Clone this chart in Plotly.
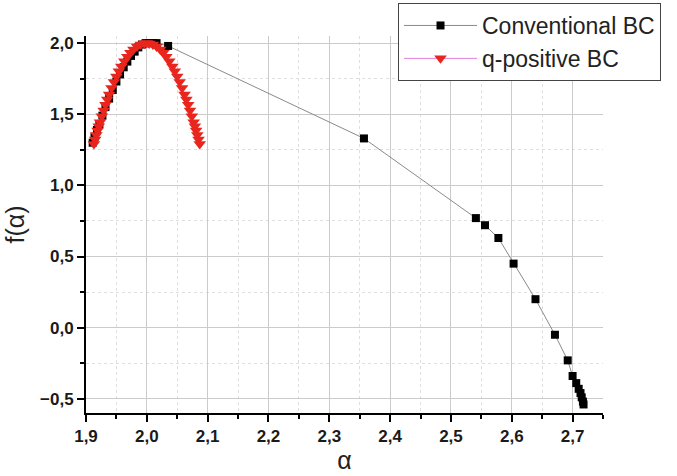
import plotly.graph_objects as go

# Conventional BC (black squares)
conv_alpha = [1.911, 1.914, 1.918, 1.922, 1.927, 1.932, 1.938, 1.944, 1.950, 1.956,
              1.962, 1.968, 1.974, 1.980, 1.986, 1.992, 1.998, 2.004, 2.010, 2.016,
              2.035, 2.357, 2.541, 2.556, 2.578, 2.603, 2.639, 2.671, 2.692, 2.700,
              2.706, 2.710, 2.713, 2.715, 2.717, 2.718]
conv_f = [1.30, 1.34, 1.39, 1.43, 1.49, 1.55, 1.61, 1.67, 1.73, 1.78,
          1.83, 1.87, 1.91, 1.94, 1.97, 1.99, 2.00, 2.00, 2.00, 2.00,
          1.98, 1.33, 0.77, 0.72, 0.63, 0.45, 0.20, -0.05, -0.23, -0.34,
          -0.39, -0.43, -0.46, -0.49, -0.52, -0.54]

# q-positive BC (red triangles)
qpos_alpha = [1.913, 1.915, 1.917, 1.919, 1.921, 1.923, 1.926, 1.929, 1.932, 1.935,
              1.938, 1.942, 1.946, 1.950, 1.954, 1.958, 1.963, 1.968, 1.973, 1.978,
              1.984, 1.990, 1.996, 2.000, 2.004, 2.010, 2.016, 2.022, 2.027, 2.032,
              2.037, 2.042, 2.046, 2.050, 2.054, 2.058, 2.062, 2.065, 2.068, 2.071,
              2.074, 2.077, 2.079, 2.081, 2.083, 2.085, 2.087]
qpos_f = [1.290, 1.322, 1.354, 1.385, 1.415, 1.444, 1.486, 1.527, 1.566, 1.604,
          1.639, 1.684, 1.726, 1.765, 1.802, 1.835, 1.872, 1.904, 1.932, 1.955,
          1.976, 1.991, 1.998, 2.000, 1.998, 1.991, 1.976, 1.955, 1.932, 1.904,
          1.872, 1.835, 1.802, 1.765, 1.726, 1.684, 1.639, 1.604, 1.566, 1.527,
          1.486, 1.444, 1.415, 1.385, 1.354, 1.322, 1.290]

FONT = "Liberation Sans, Arial, sans-serif"

fig = go.Figure()
fig.add_trace(go.Scatter(
    x=conv_alpha, y=conv_f, mode="lines+markers", name="Conventional BC",
    line=dict(color="#8a8a8a", width=1),
    marker=dict(symbol="square", size=8, color="black"),
))
fig.add_trace(go.Scatter(
    x=qpos_alpha, y=qpos_f, mode="lines+markers", name="q-positive BC",
    line=dict(color="#e27ee0", width=1),
    marker=dict(symbol="triangle-down", size=11, color="#e8261e"),
))

axis_common = dict(
    showline=True, linecolor="black", linewidth=2, mirror=False,
    ticks="outside", ticklen=7, tickwidth=1.5, tickcolor="black",
    showgrid=True, gridcolor="#cbcbcb", gridwidth=1,
    zeroline=False, automargin=False,
    tickfont=dict(family=FONT, size=17, color="#1a1a1a", weight="bold"),
    tickformat=".1f",
)

fig.update_xaxes(
    range=[1.9, 2.75], dtick=0.1, tick0=1.9,
    minor=dict(dtick=0.05, ticks="outside", ticklen=4, tickcolor="black",
               showgrid=True, gridcolor="#dedede", griddash="dot"),
    title=dict(text="α", font=dict(family=FONT, size=25, color="#222"), standoff=6),
    **axis_common,
)
fig.update_yaxes(
    range=[-0.6, 2.05], dtick=0.5, tick0=-0.5,
    minor=dict(dtick=0.25, ticks="outside", ticklen=4, tickcolor="black",
               showgrid=True, gridcolor="#dedede", griddash="dot"),
    title=dict(text="f(α)", font=dict(family=FONT, size=25, color="#222"), standoff=8),
    **axis_common,
)

fig.update_layout(
    width=677, height=476,
    margin=dict(l=86, r=74, t=36, b=63, autoexpand=False),
    plot_bgcolor="white", paper_bgcolor="white",
    separators=",.",
    legend=dict(
        x=0.6035, y=1.0875, xanchor="left", yanchor="top",
        bordercolor="#444", borderwidth=1, bgcolor="white",
        font=dict(family=FONT, size=23, color="#222"),
        itemwidth=73, tracegroupgap=0,
    ),
    showlegend=True,
)

fig.write_html("out.html")
